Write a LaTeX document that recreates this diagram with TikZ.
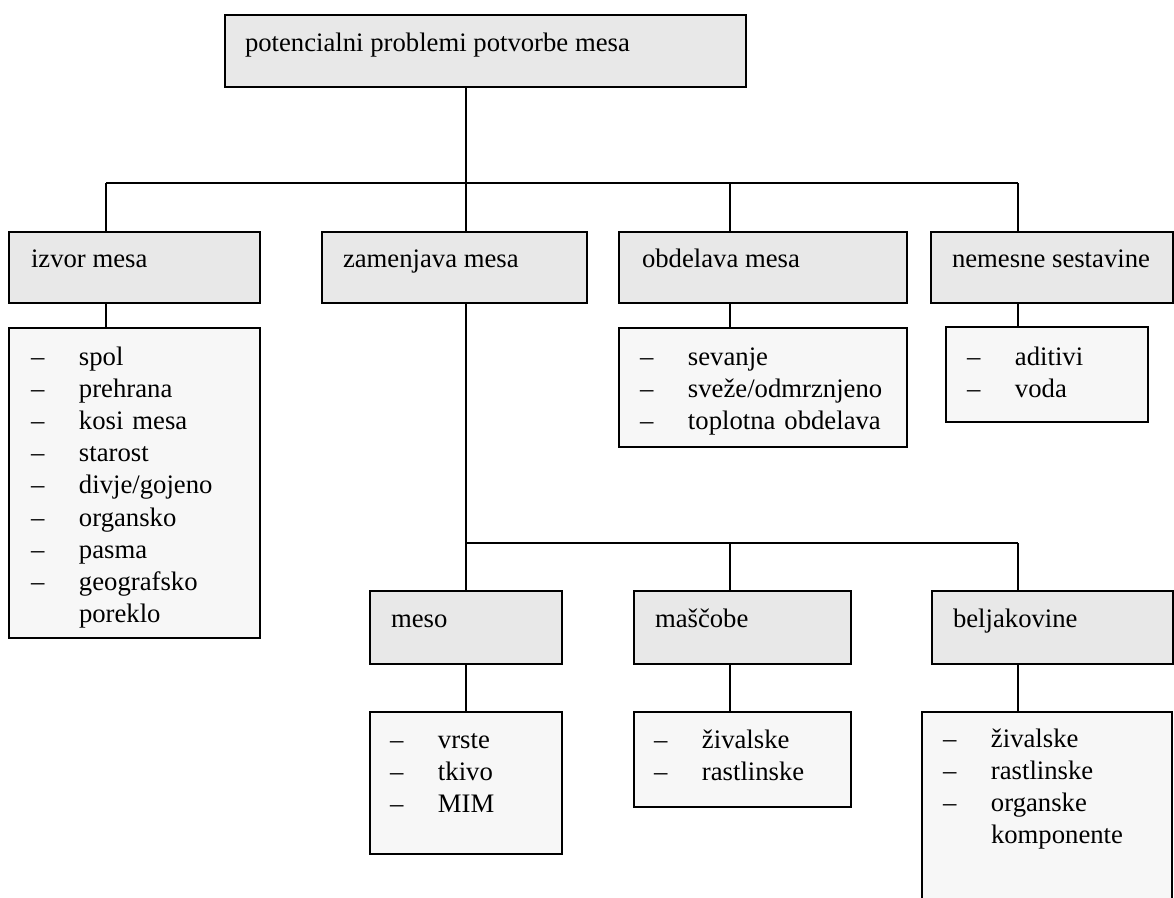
\documentclass[tikz,border=0pt]{standalone}
\usepackage{fontspec}
\setmainfont{Liberation Serif}
\definecolor{boxgray}{HTML}{E8E8E8}
\definecolor{listgray}{HTML}{F7F7F7}
\newcommand\itm[1]{\makebox[48pt][l]{–}#1}
\newcommand\cont[1]{\hspace*{48pt}#1}
\begin{document}
\begin{tikzpicture}[x=1pt,y=-1pt,
  box/.style={draw=black, line width=2pt, fill=boxgray, inner sep=0pt, outer sep=0pt, anchor=north west},
  listbox/.style={box, fill=listgray},
  lbl/.style={anchor=base west, inner sep=0pt, outer sep=0pt, font=\fontsize{26.7pt}{32.2pt}\selectfont},
  lst/.style={lbl, text width=400pt, align=left},
  conn/.style={draw=black, line width=2pt}]
\useasboundingbox (0,0) rectangle (1174,897);
\fill[white] (0,0) rectangle (1174,897);
\clip (0,0) rectangle (1174,897);
% top
\node[box, minimum width=521pt, minimum height=72pt] (top) at (225,15) {};
\node[lbl] (topT) at ([xshift=20pt,yshift=-36pt]top.north west) {potencialni problemi potvorbe mesa};
% level 2
\node[box, minimum width=251pt, minimum height=71pt] (izv) at (9,232) {};
\node[box, minimum width=265pt, minimum height=71pt] (zam) at (322,232) {};
\node[box, minimum width=288pt, minimum height=71pt] (obd) at (619,232) {};
\node[box, minimum width=242pt, minimum height=71pt] (nem) at (931,232) {};
\node[lbl] (izvT) at ([xshift=22pt,yshift=-35pt]izv.north west) {izvor mesa};
\node[lbl] (zamT) at ([xshift=21pt,yshift=-35pt]zam.north west) {zamenjava mesa};
\node[lbl] (obdT) at ([xshift=23pt,yshift=-35pt]obd.north west) {obdelava mesa};
\node[lbl] (nemT) at ([xshift=21pt,yshift=-35pt]nem.north west) {nemesne sestavine};
% level 2 lists
\node[listbox, minimum width=251pt, minimum height=310pt] (izvL) at (9,328) {};
\node[listbox, minimum width=288pt, minimum height=119pt] (obdL) at (619,328) {};
\node[listbox, minimum width=202pt, minimum height=95pt] (nemL) at (946,327) {};
\node[lst] (izvLT) at ([xshift=22pt,yshift=-37pt]izvL.north west)
  {\itm{spol}\\\itm{prehrana}\\\itm{kosi mesa}\\\itm{starost}\\\itm{divje/gojeno}\\\itm{organsko}\\\itm{pasma}\\\itm{geografsko}\\\cont{poreklo}};
\node[lst] (obdLT) at ([xshift=21pt,yshift=-37pt]obdL.north west)
  {\itm{sevanje}\\\itm{sveže/odmrznjeno}\\\itm{toplotna obdelava}};
\node[lst] (nemLT) at ([xshift=21pt,yshift=-38pt]nemL.north west)
  {\itm{aditivi}\\\itm{voda}};
% level 3
\node[box, minimum width=192pt, minimum height=73pt] (mes) at (370,591) {};
\node[box, minimum width=217pt, minimum height=73pt] (mas) at (634,591) {};
\node[box, minimum width=241pt, minimum height=73pt] (bel) at (932,591) {};
\node[lbl] (mesT) at ([xshift=21pt,yshift=-36pt]mes.north west) {meso};
\node[lbl] (masT) at ([xshift=21pt,yshift=-36pt]mas.north west) {maščobe};
\node[lbl] (belT) at ([xshift=21pt,yshift=-36pt]bel.north west) {beljakovine};
% level 3 lists
\node[listbox, minimum width=192pt, minimum height=142pt] (mesL) at (370,712) {};
\node[listbox, minimum width=217pt, minimum height=95pt] (masL) at (634,712) {};
\node[listbox, minimum width=250pt, minimum height=220pt] (belL) at (922,712) {};
\node[lst] (mesLT) at ([xshift=20pt,yshift=-36pt]mesL.north west)
  {\itm{vrste}\\\itm{tkivo}\\\itm{MIM}};
\node[lst] (masLT) at ([xshift=20pt,yshift=-36pt]masL.north west)
  {\itm{živalske}\\\itm{rastlinske}};
\node[lst] (belLT) at ([xshift=21pt,yshift=-35pt]belL.north west)
  {\itm{živalske}\\\itm{rastlinske}\\\itm{organske}\\\cont{komponente}};
% bus coordinates
\coordinate (b1L) at (106,183);
\coordinate (b1C) at (466,183);
\coordinate (b1M) at (730,183);
\coordinate (b1R) at (1018,183);
\coordinate (b2L) at (466,543);
\coordinate (b2M) at (730,543);
\coordinate (b2R) at (1018,543);
% connectors level 1
\draw[conn] (b1C |- top.south) -- (b1C |- zam.north);
\draw[conn] (b1L) -- (b1R);
\draw[conn] (b1L) -- (b1L |- izv.north);
\draw[conn] (b1M) -- (b1M |- obd.north);
\draw[conn] (b1R) -- (b1R |- nem.north);
\draw[conn] (b1L |- izv.south) -- (b1L |- izvL.north);
\draw[conn] (b1M |- obd.south) -- (b1M |- obdL.north);
\draw[conn] (b1R |- nem.south) -- (b1R |- nemL.north);
% connectors level 2
\draw[conn] (b2L |- zam.south) -- (b2L |- mes.north);
\draw[conn] (b2L) -- (b2R);
\draw[conn] (b2M) -- (b2M |- mas.north);
\draw[conn] (b2R) -- (b2R |- bel.north);
\draw[conn] (b2L |- mes.south) -- (b2L |- mesL.north);
\draw[conn] (b2M |- mas.south) -- (b2M |- masL.north);
\draw[conn] (b2R |- bel.south) -- (b2R |- belL.north);
\end{tikzpicture}
\end{document}
